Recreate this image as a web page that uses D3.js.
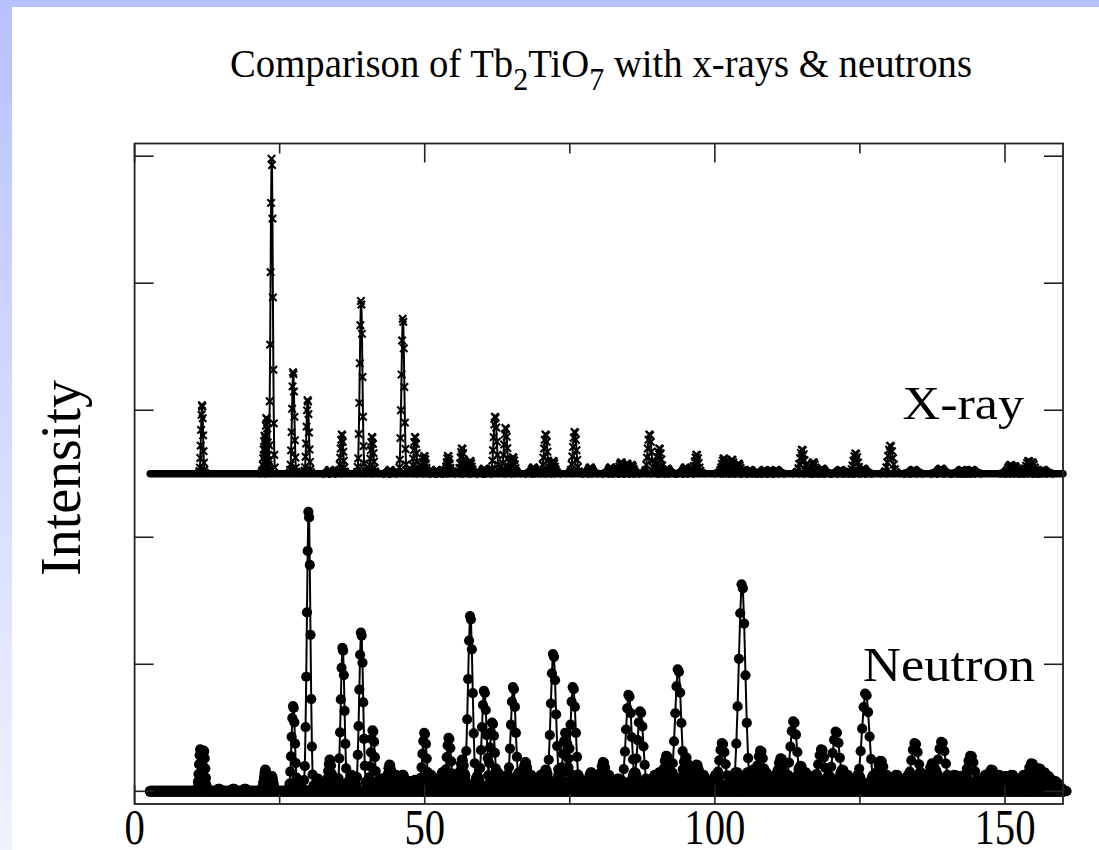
<!DOCTYPE html>
<html>
<head>
<meta charset="utf-8">
<script src="https://cdn.jsdelivr.net/npm/d3@7"></script>
<style>
  html, body { margin: 0; padding: 0; background: #fff; }
  svg { display: block; }
</style>
</head>
<body>
<svg id="chart" width="1099" height="850"></svg>
<script>
// ---- data -------------------------------------------------------------
const xTicks = [0, 25, 50, 75, 100, 125, 150];
const xTickLabels = ["0", "50", "100", "150"];
const yTicks = [0, 1, 2, 3, 4, 5];

// X-ray reflections: position (2θ, degrees) and peak intensity (arb. units)
const xrayPos = [11.6, 22.4, 22.7, 23.6, 27.3, 29.8, 33.6, 35.7, 39.0, 40.9,
  44.0, 46.2, 48.3, 49.9, 52.0, 54.0, 56.4, 57.8, 60.2, 62.1,
  63.9, 65.2, 68.7, 70.8, 72.1, 75.8, 78.5, 82.0, 83.8, 84.8,
  85.6, 88.7, 90.4, 91.7, 94.9, 96.8, 101.5, 102.9, 104.0, 106.0,
  108.5, 110.5, 115.0, 116.9, 118.4, 121.6, 124.2, 125.5, 130.2, 134.2,
  138.9, 142.5, 144.2, 150.9, 151.6, 154.0, 154.6, 156.5];
const xrayInt = [0.54, 0.30, 0.44, 2.48, 0.80, 0.58, 0.03, 0.31, 1.36, 0.29,
  0.03, 1.22, 0.29, 0.14, 0.03, 0.14, 0.20, 0.10, 0.04, 0.45,
  0.36, 0.13, 0.05, 0.31, 0.10, 0.33, 0.05, 0.05, 0.09, 0.08,
  0.07, 0.31, 0.20, 0.04, 0.05, 0.15, 0.12, 0.11, 0.08, 0.03,
  0.03, 0.03, 0.19, 0.09, 0.04, 0.03, 0.16, 0.04, 0.22, 0.03,
  0.04, 0.03, 0.03, 0.07, 0.06, 0.10, 0.09, 0.03];

// Neutron reflections: position (2θ, degrees) and peak intensity (arb. units)
const neutronPos = [11.3, 11.9, 19.0, 22.5, 23.6, 27.3, 29.95, 33.6, 35.8, 39.0, 41.0,
  43.9, 46.2, 48.3, 49.9, 52.0, 54.1, 56.4, 57.8, 59.0, 60.2,
  61.6, 63.2, 65.2, 67.3, 69.0, 70.8, 72.1, 74.2, 75.5, 77.0,
  78.6, 80.7, 82.5, 84.0, 85.1, 87.1, 88.9, 90.4, 91.6, 93.6,
  94.9, 96.8, 99.0, 101.2, 102.8, 104.6, 106.6, 107.8, 109.5, 111.3,
  113.5, 114.7, 116.3, 118.3, 119.6, 120.8, 121.9, 123.5, 125.9, 127.3,
  128.5, 130.2, 132.3, 134.4, 136.2, 137.4, 139.0, 140.5, 142.0, 144.0,
  145.5, 147.6, 150.1, 152.0, 154.5, 155.8, 157.3];
const neutronInt = [0.33, 0.32, 0.02, 0.17, 0.12, 0.67, 2.20, 0.25, 1.13, 1.25, 0.48,
  0.21, 0.13, 0.09, 0.46, 0.08, 0.42, 0.25, 1.38, 0.12, 0.79,
  0.54, 0.10, 0.82, 0.23, 0.08, 0.17, 1.08, 0.46, 0.82, 0.08,
  0.15, 0.23, 0.06, 0.08, 0.76, 0.63, 0.09, 0.15, 0.28, 0.96,
  0.27, 0.21, 0.06, 0.38, 0.10, 1.63, 0.17, 0.32, 0.08, 0.26,
  0.55, 0.20, 0.08, 0.33, 0.12, 0.47, 0.17, 0.06, 0.77, 0.12,
  0.24, 0.10, 0.08, 0.38, 0.10, 0.22, 0.39, 0.10, 0.12, 0.28,
  0.08, 0.17, 0.12, 0.06, 0.22, 0.18, 0.12];

// weak neutron reflections that fill the background between the main lines
const neutronWeakPos = [14.5, 17.0, 31.5, 37.3, 42.5, 45.0, 47.2, 51.0, 53.0, 55.3,
  62.5, 64.2, 66.2, 68.2, 70.0, 73.2, 76.3, 79.6, 81.6, 83.3,
  86.1, 89.6, 92.5, 95.8, 97.9, 100.1, 103.7, 105.6, 108.7, 110.4,
  112.4, 115.5, 117.3, 122.7, 124.6, 129.4, 131.2, 133.3, 135.3, 138.2,
  141.2, 143.0, 146.6, 148.8, 151.1, 153.2, 156.6, 158.5];
const neutronWeakInt = [0.02, 0.02, 0.10, 0.13, 0.10, 0.13, 0.08, 0.13, 0.15, 0.13,
  0.15, 0.13, 0.15, 0.13, 0.13, 0.15, 0.13, 0.13, 0.13, 0.10,
  0.15, 0.13, 0.15, 0.13, 0.13, 0.13, 0.15, 0.15, 0.15, 0.13,
  0.13, 0.15, 0.13, 0.13, 0.13, 0.13, 0.13, 0.13, 0.15, 0.13,
  0.13, 0.13, 0.13, 0.13, 0.13, 0.13, 0.15, 0.08];

// Relative intensity of successive scan points across one reflection
const peakProfile = [0.01, 0.04, 0.09, 0.23, 0.41, 0.64, 0.86, 1.0, 0.98, 0.81, 0.56, 0.33, 0.16, 0.06, 0.02];

const xrayOffset = 2.5;          // vertical stacking of the X-ray pattern
const scanRange = [2.7, 160];    // measured 2θ range

// ---- layout -----------------------------------------------------------
const svg = d3.select("#chart");
const W = 1099, H = 850;
const plot = { left: 134.6, right: 1063, top: 143.5, bottom: 804 };
const serif = "'Liberation Serif', 'Times New Roman', serif";

const x = d3.scaleLinear().domain([0, 160]).range([plot.left, plot.right]);
const y = d3.scaleLinear().domain([-0.1, 5.1]).range([plot.bottom, plot.top]);

// page background with the tinted border
const defs = svg.append("defs");
const grad = defs.append("linearGradient").attr("id", "edge")
  .attr("x1", 0).attr("y1", 0).attr("x2", 0).attr("y2", 1);
grad.append("stop").attr("offset", 0).attr("stop-color", "#b6c2ff");
grad.append("stop").attr("offset", 1).attr("stop-color", "#f0f2ff");
svg.append("rect").attr("width", W).attr("height", H).attr("fill", "#fff");
svg.append("rect").attr("x", 0).attr("y", 0).attr("width", 12).attr("height", H).attr("fill", "url(#edge)");
svg.append("rect").attr("x", 0).attr("y", 0).attr("width", W).attr("height", 7).attr("fill", "#b6c2ff");

// ---- pattern drawing ----------------------------------------------------
const half = (peakProfile.length - 1) / 2;
function profilePoints(pos, h, step, base) {
  return peakProfile.map((f, i) => [pos + (i - half) * step, base + h * f]);
}
const line = d3.line().x(d => x(d[0])).y(d => y(d[1]));

function drawPattern(cls, pos, inten, base, stepFn, marker, bandWidth) {
  const g = svg.append("g").attr("class", cls);
  // continuous background run of overlapping scan points
  g.append("path")
    .attr("d", line([[scanRange[0], base], [scanRange[1], base]]))
    .attr("stroke", "#000").attr("stroke-width", bandWidth)
    .attr("stroke-linecap", "round").attr("fill", "none");
  const peaks = pos.map((p, i) => profilePoints(p, inten[i], stepFn(p), base));
  g.selectAll("path.peak").data(peaks).join("path")
    .attr("class", "peak")
    .attr("d", line)
    .attr("fill", "none").attr("stroke", "#000").attr("stroke-width", 2);
  const pts = peaks.flat();
  if (marker === "cross") {
    const s = 3.7;
    g.selectAll("path.mk").data(pts).join("path")
      .attr("class", "mk")
      .attr("transform", d => `translate(${x(d[0])},${y(d[1])})`)
      .attr("d", `M${-s},${-s}L${s},${s}M${s},${-s}L${-s},${s}`)
      .attr("stroke", "#000").attr("stroke-width", 2.1).attr("fill", "none");
  } else {
    g.selectAll("circle.mk").data(pts).join("circle")
      .attr("class", "mk")
      .attr("cx", d => x(d[0])).attr("cy", d => y(d[1]))
      .attr("r", 5.1).attr("fill", "#000");
  }
}

const neutronStep = p => 0.08 + 0.0014 * p;
drawPattern("neutron-weak", neutronWeakPos, neutronWeakInt, 0, neutronStep, "circle", 11);
drawPattern("neutron", neutronPos, neutronInt, 0, neutronStep, "circle", 11);
drawPattern("xray", xrayPos, xrayInt, xrayOffset, p => 0.06 + 0.0008 * p, "cross", 7.5);

// ---- frame and ticks ----------------------------------------------------
const axisColor = "#222";
const majorX = [0, 50, 100, 150];
function tickLen(v) { return majorX.includes(v) ? 19 : 10; }

const gAxes = svg.append("g");
gAxes.selectAll("line.xb").data(xTicks).join("line")
  .attr("x1", d => x(d)).attr("x2", d => x(d))
  .attr("y1", plot.bottom).attr("y2", d => plot.bottom - tickLen(d))
  .attr("stroke", axisColor).attr("stroke-width", 1.6);
gAxes.selectAll("line.xt").data(xTicks).join("line")
  .attr("x1", d => x(d)).attr("x2", d => x(d))
  .attr("y1", plot.top).attr("y2", d => plot.top + tickLen(d))
  .attr("stroke", axisColor).attr("stroke-width", 1.6);
gAxes.selectAll("line.yl").data(yTicks).join("line")
  .attr("x1", plot.left).attr("x2", plot.left + 19)
  .attr("y1", d => y(d)).attr("y2", d => y(d))
  .attr("stroke", axisColor).attr("stroke-width", 1.6);
gAxes.selectAll("line.yr").data(yTicks).join("line")
  .attr("x1", plot.right).attr("x2", plot.right - 19)
  .attr("y1", d => y(d)).attr("y2", d => y(d))
  .attr("stroke", axisColor).attr("stroke-width", 1.6);
gAxes.append("rect")
  .attr("x", plot.left).attr("y", plot.top)
  .attr("width", plot.right - plot.left).attr("height", plot.bottom - plot.top)
  .attr("fill", "none").attr("stroke", axisColor).attr("stroke-width", 1.8);

// ---- text -------------------------------------------------------------
// text is drawn in a group so it can be narrowed/widened to the set width
function placeText(tx, ty, anchor, size, width, build) {
  const g = svg.append("g").attr("transform", `translate(${tx},${ty})`);
  const t = g.append("text").attr("text-anchor", anchor)
    .attr("font-family", serif).attr("font-size", size).attr("fill", "#000");
  build(t);
  const w = t.node().getBBox().width;
  const sx = width ? width / w : 1;
  g.attr("transform", `translate(${tx},${ty}) scale(${sx},1)`);
  return { g, sx };
}

// title with chemical subscripts
placeText(601, 77, "middle", 40, 742, t => {
  t.append("tspan").text("Comparison of Tb");
  t.append("tspan").attr("font-size", 31).attr("dy", 13).text("2");
  t.append("tspan").attr("dy", -13).text("TiO");
  t.append("tspan").attr("font-size", 31).attr("dy", 13).text("7");
  t.append("tspan").attr("dy", -13).text(" with x-rays & neutrons");
});

// x tick labels
const probe = placeText(0, 0, "middle", 50, 61, t => t.text("150"));
const labelScale = probe.sx;
probe.g.remove();
majorX.forEach((v, i) => {
  svg.append("g").attr("transform", `translate(${x(v)},844) scale(${labelScale},1)`)
    .append("text").attr("text-anchor", "middle")
    .attr("font-family", serif).attr("font-size", 50).text(xTickLabels[i]);
});

// series labels
placeText(1024, 419, "end", 47, 122, t => t.text("X-ray"));
placeText(1035, 681, "end", 48, 172, t => t.text("Neutron"));

// y axis title
svg.append("text")
  .attr("transform", "translate(80,478) rotate(-90)")
  .attr("text-anchor", "middle")
  .attr("font-family", serif).attr("font-size", 56).text("Intensity");
</script>
</body>
</html>
